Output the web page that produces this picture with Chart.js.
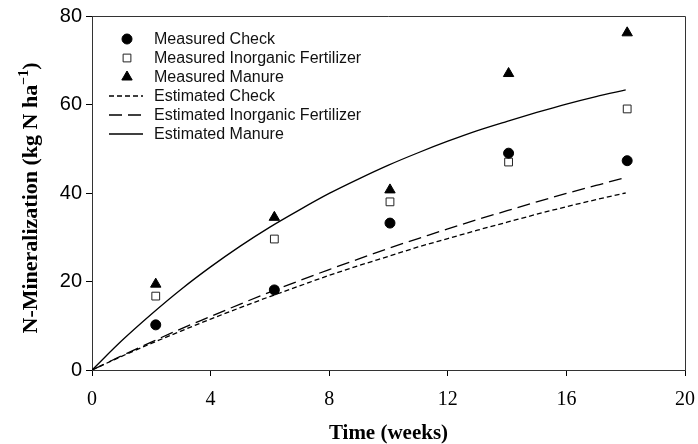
<!DOCTYPE html>
<html>
<head>
<meta charset="utf-8">
<script src="https://cdn.jsdelivr.net/npm/chart.js@4.4.0/dist/chart.umd.min.js"></script>
<style>
  html, body { margin: 0; padding: 0; background: #fff; }
</style>
</head>
<body>
<canvas id="mycanvas" width="698" height="444"></canvas>
<script>
// measured data (sampling weeks)
var weeks = [2.15, 6.15, 10.05, 14.05, 18.05];
var measuredCheck = [10.2, 18.1, 33.2, 49.0, 47.3];
var measuredInorganic = [16.7, 29.6, 38.0, 47.0, 59.0];
var measuredManure = [19.4, 34.5, 40.7, 67.0, 76.2];

// estimated curves at each week
var estWeeks = [0, 1, 2, 3, 4, 5, 6, 7, 8, 9, 10, 11, 12, 13, 14, 15, 16, 17, 18];
var estCheck = [0, 3.1, 6.0, 8.8, 11.5, 14.1, 16.6, 19.0, 21.4, 23.6, 25.7, 27.8, 29.7, 31.6, 33.4, 35.2, 36.9, 38.5, 40.0];
var estInorganic = [0, 3.2, 6.3, 9.3, 12.1, 14.9, 17.6, 20.2, 22.7, 25.1, 27.5, 29.7, 31.9, 34.0, 36.0, 38.0, 39.9, 41.7, 43.5];
var estManure = [0, 6.6, 12.6, 18.2, 23.3, 28.0, 32.3, 36.2, 39.9, 43.2, 46.3, 49.1, 51.7, 54.1, 56.2, 58.2, 60.1, 61.8, 63.3];

var xTicks = [0, 4, 8, 12, 16, 20];
var yTicks = [0, 20, 40, 60, 80];

function pairs(xs, ys) {
  var out = [];
  for (var i in ys) {
    out.push({ x: xs[i], y: ys[i] });
  }
  return out;
}

var chartdata = {
  datasets: [
    {
      label: "Measured Check",
      data: pairs(weeks, measuredCheck),
      pointStyle: "circle",
      pointRadius: 5,
      backgroundColor: "#000",
      borderColor: "#000",
      borderWidth: 1,
      showLine: false
    },
    {
      label: "Measured Inorganic Fertilizer",
      data: pairs(weeks, measuredInorganic),
      pointStyle: "rect",
      pointRadius: 5.5,
      backgroundColor: "#fff",
      borderColor: "#222",
      borderWidth: 1,
      showLine: false
    },
    {
      label: "Measured Manure",
      data: pairs(weeks, measuredManure),
      pointStyle: "triangle",
      pointRadius: 6,
      backgroundColor: "#000",
      borderColor: "#000",
      borderWidth: 1,
      showLine: false
    },
    {
      label: "Estimated Check",
      data: pairs(estWeeks, estCheck),
      showLine: true,
      pointRadius: 0,
      borderColor: "#000",
      borderWidth: 1.3,
      borderDash: [5, 3],
      cubicInterpolationMode: "monotone",
      fill: false
    },
    {
      label: "Estimated Inorganic Fertilizer",
      data: pairs(estWeeks, estInorganic),
      showLine: true,
      pointRadius: 0,
      borderColor: "#000",
      borderWidth: 1.3,
      borderDash: [13, 6],
      cubicInterpolationMode: "monotone",
      fill: false
    },
    {
      label: "Estimated Manure",
      data: pairs(estWeeks, estManure),
      showLine: true,
      pointRadius: 0,
      borderColor: "#000",
      borderWidth: 1.3,
      cubicInterpolationMode: "monotone",
      fill: false
    }
  ]
};

// frame, legend box and y title with superscript
var extras = {
  id: "extras",
  afterDraw: function(chart) {
    var ctx = chart.ctx;
    var a = chart.chartArea;
    ctx.save();

    // top and right edges of the frame
    ctx.strokeStyle = "#333";
    ctx.lineWidth = 1;
    ctx.beginPath();
    ctx.moveTo(a.left, Math.round(a.top) + 0.5);
    ctx.lineTo(Math.round(a.right) + 0.5, Math.round(a.top) + 0.5);
    ctx.lineTo(Math.round(a.right) + 0.5, a.bottom);
    ctx.stroke();

    // legend
    var rowY = a.top + 23;
    var markX = 127;
    var textX = 154;
    ctx.font = "16px 'Liberation Sans', Arial, sans-serif";
    ctx.textBaseline = "middle";
    ctx.textAlign = "left";
    chart.data.datasets.forEach(function(ds, i) {
      var y = rowY + i * 19;
      if (ds.showLine) {
        ctx.strokeStyle = ds.borderColor;
        ctx.lineWidth = ds.borderWidth;
        ctx.setLineDash(ds.borderDash || []);
        ctx.beginPath();
        ctx.moveTo(109, y);
        ctx.lineTo(143, y);
        ctx.stroke();
        ctx.setLineDash([]);
      } else {
        ctx.fillStyle = ds.backgroundColor;
        ctx.strokeStyle = ds.borderColor;
        ctx.lineWidth = ds.borderWidth;
        Chart.helpers.drawPoint(ctx, {
          pointStyle: ds.pointStyle,
          radius: ds.pointRadius,
          rotation: 0,
          borderWidth: ds.borderWidth
        }, markX, y);
      }
      ctx.fillStyle = "#111";
      ctx.fillText(ds.label, textX, y + 1);
    });

    // y axis title
    var main = "bold 22px 'Liberation Serif', 'Times New Roman', serif";
    var sup = "bold 14px 'Liberation Serif', 'Times New Roman', serif";
    var p1 = "N-Mineralization (kg N ha";
    var p2 = "\u22121";
    var p3 = ")";
    ctx.font = main;
    var w1 = ctx.measureText(p1).width;
    var w3 = ctx.measureText(p3).width;
    ctx.font = sup;
    var w2 = ctx.measureText(p2).width;
    var total = w1 + w2 + w3;
    ctx.translate(30, 198);
    ctx.rotate(-Math.PI / 2);
    ctx.fillStyle = "#000";
    ctx.textBaseline = "alphabetic";
    ctx.font = main;
    var x0 = -total / 2;
    ctx.fillText(p1, x0, 7);
    ctx.font = sup;
    ctx.fillText(p2, x0 + w1, -2);
    ctx.font = main;
    ctx.fillText(p3, x0 + w1 + w2, 7);

    ctx.restore();
  }
};

var ctx = document.getElementById("mycanvas");

var LineGraph = new Chart(ctx, {
  type: "scatter",
  data: chartdata,
  plugins: [extras],
  options: {
    responsive: false,
    animation: false,
    events: [],
    layout: { padding: { top: 16, right: 13, left: 0, bottom: 0 } },
    plugins: {
      legend: { display: false },
      tooltip: { enabled: false }
    },
    scales: {
      x: {
        type: "linear",
        min: 0,
        max: 20,
        afterBuildTicks: function(scale) {
          scale.ticks = xTicks.map(function(v) { return { value: v }; });
        },
        afterFit: function(scale) {
          scale.height = 74;
          scale.paddingLeft = 0;
          scale.paddingRight = 0;
        },
        ticks: {
          color: "#000",
          padding: 12,
          maxRotation: 0,
          font: { family: "'Liberation Serif', 'Times New Roman', serif", size: 20 }
        },
        grid: { drawOnChartArea: false, drawTicks: true, tickLength: 6, color: "#000" },
        border: { color: "#333", width: 1 },
        title: {
          display: true,
          text: "Time (weeks)",
          color: "#000",
          padding: { top: 0, bottom: 0 },
          font: { family: "'Liberation Serif', 'Times New Roman', serif", size: 21, weight: "bold", lineHeight: 1 }
        }
      },
      y: {
        min: 0,
        max: 80,
        afterBuildTicks: function(scale) {
          scale.ticks = yTicks.map(function(v) { return { value: v }; });
        },
        afterFit: function(scale) { scale.width = 92; },
        ticks: {
          color: "#000",
          padding: 4,
          font: { family: "'Liberation Sans', Arial, sans-serif", size: 20 }
        },
        grid: { drawOnChartArea: false, drawTicks: true, tickLength: 6, color: "#000" },
        border: { color: "#333", width: 1 }
      }
    }
  }
});
</script>
</body>
</html>
